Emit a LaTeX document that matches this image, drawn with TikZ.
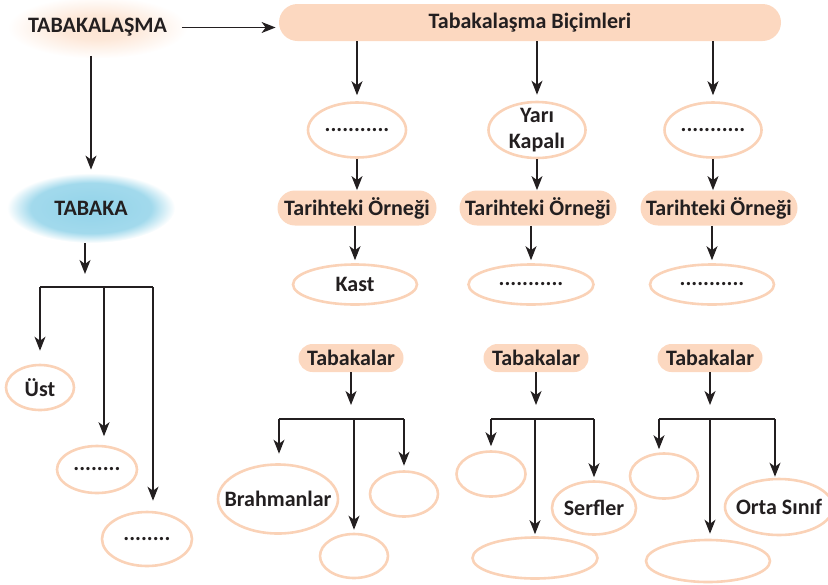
\documentclass[tikz,border=0pt]{standalone}
\usepackage{fontspec}
\setmainfont{Carlito}
\usepackage{xcolor}
\usetikzlibrary{arrows.meta}
\usetikzlibrary{shapes.geometric}
\definecolor{ink}{HTML}{231F20}
\definecolor{peachfill}{HTML}{FCD8C0}
\definecolor{peachline}{HTML}{FAD2B7}
\definecolor{peachglow}{HTML}{FDE4D2}
\definecolor{skyglow}{HTML}{92D3E9}
\pgfdeclareradialshading{peachhalo}{\pgfpoint{0bp}{0bp}}{color(0bp)=(peachglow); color(10bp)=(peachglow!85); color(25bp)=(white); color(50bp)=(white)}
\pgfdeclareradialshading{skyhalo}{\pgfpoint{0bp}{0bp}}{color(0bp)=(skyglow); color(18bp)=(skyglow!85); color(25bp)=(white); color(50bp)=(white)}

\begin{document}
\begin{tikzpicture}[x=0.5pt, y=-0.5pt, >={Stealth[length=7pt, width=5.5pt, inset=2pt]},
	every node/.style={font=\fontsize{11}{13}\selectfont\bfseries, text=ink, inner sep=0pt},
	oval/.style={ellipse, draw=peachline, line width=1.3pt},
	pill/.style={fill=peachfill, rounded corners=8.75pt, minimum height=17.5pt},
	arr/.style={->, draw=ink, line width=0.65pt, shorten >=1.5pt},
	link/.style={draw=ink, line width=0.65pt}]
	\useasboundingbox (0,0) rectangle (828,584);
	% top
	\node[ellipse, shading=peachhalo, minimum width=90pt, minimum height=31pt, label=center:TABAKALAŞMA] (tkm) at (97.5,27.5) {};
	\node[pill, minimum width=251pt, minimum height=18.5pt, rounded corners=9.25pt] (bic) at (530,22.5) {Tabakalaşma Biçimleri};
	\node[ellipse, shading=skyhalo, minimum width=84pt, minimum height=35pt, label=center:TABAKA] (tab) at (91,208) {};
	\draw[arr] ([xshift=-3pt]tkm.east) -- (tkm.east -| bic.west);
	\draw[arr] ([yshift=1.5pt]tab.north |- tkm.south) -- (tab.north);
	
	% left tree
	\coordinate (lhub) at (85,287);
	\coordinate (lb1) at (40,287);
	\coordinate (lb2) at (104,287);
	\coordinate (lb3) at (153,287);
	\node[oval, minimum width=34pt, minimum height=22.5pt, label=center:Üst] (ust) at (40,387.5) {};
	\node[oval, minimum width=40pt, minimum height=23.5pt, label=center:........] (lmid) at (97,469.5) {};
	\node[oval, minimum width=45pt, minimum height=27pt, label=center:........] (lbot) at (147,539) {};
	\draw[arr, shorten >=6.5pt] (tab.south -| lhub) -- (lhub);
	\draw[link] (lb1) -- (lb3);
	\draw[arr, shorten >=6.5pt] (lb1) -- (lb1 |- ust.north);
	\draw[arr, shorten >=4.25pt] (lb2) -- (lb2 |- lmid.north);
	\draw[arr, shorten >=5pt] (lb3) -- (lb3 |- lbot.north);
	
	% columns
	\node[oval, minimum width=49pt, minimum height=27.5pt, label=center:...........] (e1) at (357,130) {};
	\node[oval, minimum width=48.5pt, minimum height=28pt, label={[align=center]center:Yarı\\Kapalı}] (e2) at (537,130) {};
	\node[oval, minimum width=48.5pt, minimum height=27.5pt, label=center:...........] (e3) at (713,130) {};
	\node[pill, minimum width=79.5pt] (t1) at (357,208) {Tarihteki Örneği};
	\node[pill, minimum width=78.5pt] (t2) at (538,208) {Tarihteki Örneği};
	\node[pill, minimum width=78.5pt] (t3) at (719,208) {Tarihteki Örneği};
	\node[oval, minimum width=62pt, minimum height=20pt, label=center:Kast] (k1) at (355,284.5) {};
	\node[oval, minimum width=62.5pt, minimum height=20pt, label=center:...........] (k2) at (531,284.5) {};
	\node[oval, minimum width=62pt, minimum height=20pt, label=center:...........] (k3) at (712,284.5) {};
	\node[pill, minimum width=52.5pt, minimum height=14pt, rounded corners=7pt] (s1) at (351,358) {Tabakalar};
	\node[pill, minimum width=52.5pt, minimum height=14pt, rounded corners=7pt] (s2) at (536,358) {Tabakalar};
	\node[pill, minimum width=52.5pt, minimum height=14pt, rounded corners=7pt] (s3) at (710,358) {Tabakalar};
	
	% forks under Tabakalar
	\coordinate (f1l) at (279,419);
	\coordinate (f1m) at (354,419);
	\coordinate (f1r) at (404,419);
	\coordinate (f2l) at (491,419);
	\coordinate (f2m) at (535,419);
	\coordinate (f2r) at (594,419);
	\coordinate (f3l) at (659,419);
	\coordinate (f3m) at (710,419);
	\coordinate (f3r) at (775,419);
	
	\node[oval, minimum width=60pt, minimum height=34.5pt, label=center:Brahmanlar] (brah) at (278,499) {};
	\node[oval, minimum width=34pt, minimum height=22pt] (c1m) at (354,556) {};
	\node[oval, minimum width=34pt, minimum height=22.5pt] (c1r) at (404,494) {};
	\node[oval, minimum width=34.5pt, minimum height=22.5pt] (c2l) at (491,474) {};
	\node[oval, minimum width=62.5pt, minimum height=20.5pt] (c2m) at (535,558) {};
	\node[oval, minimum width=42pt, minimum height=26.5pt, label=center:Serfler] (serf) at (594,508) {};
	\node[oval, minimum width=34pt, minimum height=22.5pt] (c3l) at (664,476) {};
	\node[oval, minimum width=62pt, minimum height=21pt] (c3m) at (708,561) {};
	\node[oval, minimum width=54pt, minimum height=28pt, label=center:Orta Sınıf] (orta) at (779,507) {};
	
	\foreach \i in {1,2,3} {
		\draw[arr, shorten >=3pt] (bic.south -| e\i) -- (e\i.north);
		\draw[arr, shorten >=0pt] (e\i.south) -- (e\i.south |- t\i.north);
		\draw[arr] (t\i.south -| k\i) -- (k\i.north);
		\draw[arr, shorten >=7pt] (s\i.south) -- (s\i.south |- f\i m);
		\draw[link] (f\i l) -- (f\i r);
	}
	\draw[arr, shorten >=4.75pt] (f1l) -- (f1l |- brah.north);
	\draw[arr] (f1m) -- (f1m |- c1m.north);
	\draw[arr, shorten >=2.25pt] (f1r) -- (f1r |- c1r.north);
	\draw[arr, shorten >=2pt] (f2l) -- (f2l |- c2l.north);
	\draw[arr, shorten >=1pt] (f2m) -- (f2m |- c2m.north);
	\draw[arr] (f2r) -- (f2r |- serf.north);
	\draw[arr] (f3l) -- (f3l |- c3l.north);
	\draw[arr, shorten >=2.5pt] (f3m) -- (f3m |- c3m.north);
	\draw[arr, shorten >=0.5pt] (f3r) -- (f3r |- orta.north);
\end{tikzpicture}
\end{document}
